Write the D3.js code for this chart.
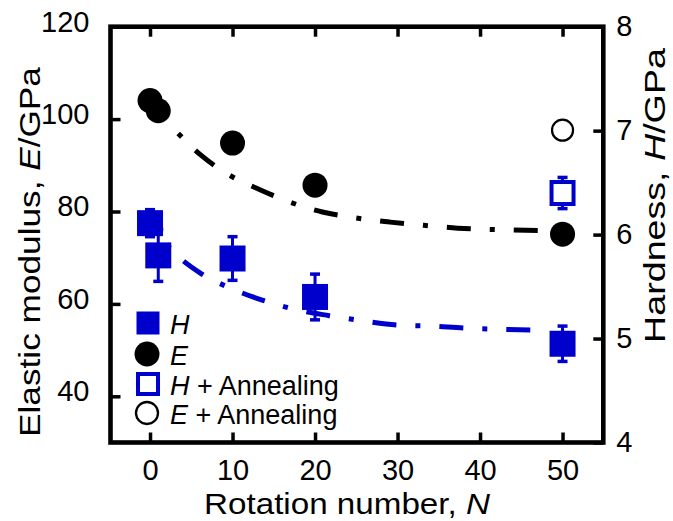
<!DOCTYPE html>
<html><head><meta charset="utf-8">
<script src="https://cdn.jsdelivr.net/npm/d3@7"></script>
<style>
body{margin:0;background:#fff}
svg{display:block}
text{font-family:"Liberation Sans",Arial,Helvetica,sans-serif;fill:#000}
</style>
</head><body>
<svg id="c" width="673" height="521"></svg>
<script>
// ---- data ----
const rotationN   = [0, 1, 10, 20, 50];
const hardnessH   = [6.11, 5.80, 5.77, 5.40, 4.95];
const hardnessErr = [0.13, 0.25, 0.21, 0.22, 0.17];
const modulusE    = [104.0, 101.8, 94.8, 85.7, 75.1];
const annealN     = [50];
const annealH     = [6.40];
const annealHErr  = [0.15];
const annealE     = [97.6];
// fitted trend curves (dash-dot)
const fitEN = [-0.2, 3.2, 6.1, 9.5, 13.6, 17.0, 20.9, 25.0, 29.1, 33.2, 37.3, 41.5, 47.0];
const fitE  = [104.2, 97.3, 92.3, 88.0, 84.5, 82.0, 79.9, 78.6, 77.7, 77.0, 76.4, 76.1, 75.9];
const fitHN = [-0.8, 2.9, 6.1, 9.9, 13.6, 17.6, 21.7, 25.8, 30.0, 34.0, 38.2, 42.2, 47.9];
const fitH  = [6.21, 5.83, 5.63, 5.48, 5.37, 5.28, 5.22, 5.17, 5.13, 5.12, 5.10, 5.09, 5.08];
// ticks
const xTicks = [0, 10, 20, 30, 40, 50];
const eTicks = [40, 60, 80, 100, 120];
const hTicks = [4, 5, 6, 7, 8];
const legendLabels = [["H",""],["E",""],["H"," + Annealing"],["E"," + Annealing"]];
const xTitle = ["Rotation number, ","N",""];
const eTitle = ["Elastic modulus, ","E","/GPa"];
const hTitle = ["Hardness, ","H","/GPa"];

const BLUE = "#0000cc";
const svg = d3.select("#c");

const x  = d3.scaleLinear().domain([-4.79, 54.94]).range([110.5, 603.3]);
const yE = d3.scaleLinear().domain([30, 120]).range([442.5, 26.7]);
const yH = d3.scaleLinear().domain([4, 8]).range([442.5, 26.7]);
const [L, R] = x.range(), [B, T] = yE.range();

// ---- curves ----
const dash = "24,19,5,19";
const lineE = d3.line().x((d,i)=>x(fitEN[i])).y(d=>yE(d)).curve(d3.curveMonotoneX);
const lineH = d3.line().x((d,i)=>x(fitHN[i])).y(d=>yH(d)).curve(d3.curveMonotoneX);
svg.append("path").attr("d", lineE(fitE)).attr("fill","none").attr("stroke","#000")
  .attr("stroke-width",5).attr("stroke-dasharray",dash).attr("stroke-dashoffset",-2);
svg.append("path").attr("d", lineH(fitH)).attr("fill","none").attr("stroke",BLUE)
  .attr("stroke-width",5).attr("stroke-dasharray",dash).attr("stroke-dashoffset",4);

// ---- error bars ----
function errBars(ns, vals, errs, color){
  const g = svg.append("g").attr("stroke", color);
  ns.forEach((n,i)=>{
    const cx = x(n), y1 = yH(vals[i]+errs[i]), y2 = yH(vals[i]-errs[i]);
    g.append("line").attr("x1",cx).attr("x2",cx).attr("y1",y1).attr("y2",y2).attr("stroke-width",3);
    [y1,y2].forEach(yy=>g.append("line").attr("x1",cx-5).attr("x2",cx+5).attr("y1",yy).attr("y2",yy).attr("stroke-width",3.5));
  });
}
errBars(rotationN, hardnessH, hardnessErr, BLUE);
errBars(annealN, annealH, annealHErr, BLUE);

// ---- markers ----
const sq = 26;
svg.append("g").selectAll("rect").data(hardnessH).join("rect")
  .attr("x",(d,i)=>x(rotationN[i])-sq/2).attr("y",d=>yH(d)-sq/2)
  .attr("width",sq).attr("height",sq).attr("fill",BLUE);
svg.append("g").selectAll("rect").data(annealH).join("rect")
  .attr("x",(d,i)=>x(annealN[i])-11).attr("y",d=>yH(d)-11)
  .attr("width",22).attr("height",22).attr("fill","#fff").attr("stroke",BLUE).attr("stroke-width",4);
svg.append("g").selectAll("circle").data(modulusE).join("circle")
  .attr("cx",(d,i)=>x(rotationN[i])).attr("cy",d=>yE(d)).attr("r",12.5).attr("fill","#000");
svg.append("g").selectAll("circle").data(annealE).join("circle")
  .attr("cx",(d,i)=>x(annealN[i])).attr("cy",d=>yE(d)).attr("r",10.5)
  .attr("fill","#fff").attr("stroke","#000").attr("stroke-width",2.2);

// ---- axes ----
function styleAxis(g, fs){
  g.select(".domain").remove();
  g.selectAll(".tick line").attr("stroke","#000").attr("stroke-width",3.5);
  g.selectAll("text").attr("font-size",fs).attr("fill","#000");
  g.attr("font-family",null).attr("font-size",null);
}
const fmt = d3.format("d");
const gB = svg.append("g").attr("transform",`translate(0,${B})`)
  .call(d3.axisBottom(x).tickValues(xTicks).tickFormat(fmt).tickSize(-10).tickPadding(17));
styleAxis(gB, 29);
const gT = svg.append("g").attr("transform",`translate(0,${T})`)
  .call(d3.axisTop(x).tickValues(xTicks).tickSize(-10).tickFormat(""));
styleAxis(gT, 29);
const gL = svg.append("g").attr("transform",`translate(${L},0)`)
  .call(d3.axisLeft(yE).tickValues(eTicks).tickFormat(fmt).tickSize(-10).tickPadding(21));
styleAxis(gL, 29);
gL.selectAll("text").attr("dy","0.15em");
const gR = svg.append("g").attr("transform",`translate(${R},0)`)
  .call(d3.axisRight(yH).tickValues(hTicks).tickFormat(fmt).tickSize(-10).tickPadding(13));
styleAxis(gR, 29);

// frame
svg.append("rect").attr("x",L).attr("y",T).attr("width",R-L).attr("height",B-T)
  .attr("fill","none").attr("stroke","#000").attr("stroke-width",4.6);

// ---- titles ----
function title(parts, tx, ty, rot, target){
  const g = svg.append("g").attr("transform",`translate(${tx},${ty}) rotate(${rot})`);
  const t = g.append("text").attr("text-anchor","middle").attr("font-size",29);
  t.append("tspan").text(parts[0]);
  t.append("tspan").attr("font-style","italic").text(parts[1]);
  if (parts[2]) t.append("tspan").text(parts[2]);
  const len = t.node().getComputedTextLength();
  t.attr("transform",`scale(${target/len},1)`);
}
title(xTitle, 347, 514, 0, 286);
title(eTitle, 40, 252, -90, 370);
title(hTitle, 665, 195.5, -90, 295);

// ---- legend ----
const lgX = 148, lgY = [323, 354, 384, 413];
const lg = svg.append("g");
lg.append("rect").attr("x",lgX-11.5).attr("y",lgY[0]-11.5).attr("width",23).attr("height",23).attr("fill",BLUE);
lg.append("circle").attr("cx",lgX-1).attr("cy",lgY[1]).attr("r",12.5).attr("fill","#000");
lg.append("rect").attr("x",lgX-10).attr("y",lgY[2]-10).attr("width",20).attr("height",20)
  .attr("fill","#fff").attr("stroke",BLUE).attr("stroke-width",4);
lg.append("circle").attr("cx",lgX-1).attr("cy",lgY[3]).attr("r",11).attr("fill","#fff")
  .attr("stroke","#000").attr("stroke-width",2.3);
legendLabels.forEach((p,i)=>{
  const t = lg.append("text").attr("x",170).attr("y",lgY[i]+10.5).attr("font-size",27);
  t.append("tspan").attr("font-style","italic").text(p[0]);
  if (p[1]) t.append("tspan").text(p[1]);
});
</script>
</body></html>
